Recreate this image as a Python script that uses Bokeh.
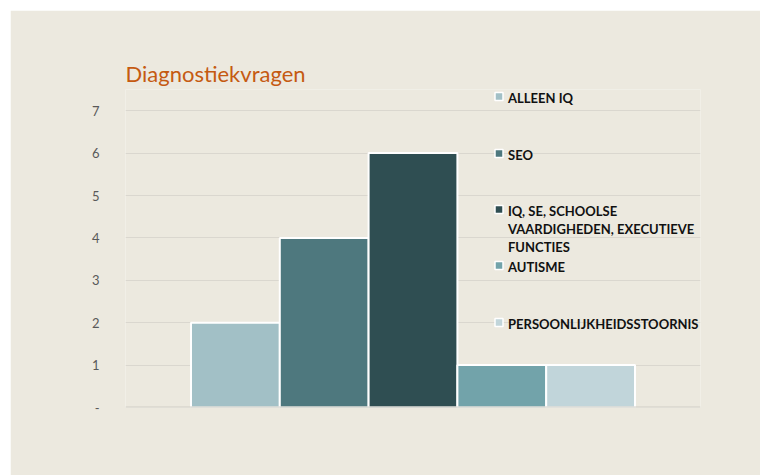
from bokeh.plotting import figure
from bokeh.models import FactorRange, Range1d, FixedTicker, Span
from bokeh.core.properties import value
from bokeh.embed import file_html
from bokeh.resources import INLINE

series = ["ALLEEN IQ", "SEO", "IQ, SE, SCHOOLSE\nVAARDIGHEDEN, EXECUTIEVE\nFUNCTIES", "AUTISME", "PERSOONLIJKHEIDSSTOORNIS"]
counts = [2, 4, 6, 1, 1]
colors = ["#A2C0C6", "#4E787E", "#2F4E52", "#72A3AA", "#C1D5DA"]
y_ticks = [0, 1, 2, 3, 4, 5, 6, 7]
y_tick_labels = ["-", "1", "2", "3", "4", "5", "6", "7"]
title_text = "Diagnostiekvragen"

BG = "#ECE9DF"
keys = [f"s{i}" for i in range(len(series))]

W, H = 750, 465
p = figure(width=W, height=H, output_backend="svg", toolbar_location=None,
           x_range=FactorRange(factors=keys, range_padding=0.295, range_padding_units="percent"),
           y_range=Range1d(0, 7.5),
           min_border_left=115, min_border_right=60, min_border_top=79, min_border_bottom=68)
p.margin = (10, 0, 0, 10)
p.background_fill_color = BG
p.border_fill_color = BG
p.outline_line_color = None

p.vbar(x=keys, top=counts, width=1.0, fill_color=colors, line_color="white", line_width=2)

p.xaxis.visible = False
p.xgrid.visible = False
p.ygrid.ticker = FixedTicker(ticks=y_ticks[1:])
p.ygrid.grid_line_color = "#DAD7CF"
p.ygrid.grid_line_width = 1
p.add_layout(Span(location=0, dimension="width", line_color="#D0CDC5", line_width=2))

yax = p.yaxis[0]
yax.ticker = FixedTicker(ticks=y_ticks)
yax.major_label_overrides = {t: l for t, l in zip(y_ticks, y_tick_labels)}
yax.axis_line_color = None
yax.major_tick_line_color = None
yax.minor_tick_line_color = None
yax.major_label_standoff = 20
yax.major_label_text_font = "Lato"
yax.major_label_text_font_size = "13px"
yax.major_label_text_color = "#595959"

p.title.text = title_text
p.title.text_font = "Lato"
p.title.text_font_size = "22px"
p.title.text_font_style = "normal"
p.title.text_color = "#C55A11"
p.title.align = "left"
p.title.standoff = 5

# legend drawn manually (pixel -> data helpers)
fl, px_per_x, x0 = 125, 88.8, -0.732
fb, px_per_y = 407, 42.4
def dx(px):
    return x0 + (px - fl) / px_per_x
def dy(py):
    return (fb - py) / px_per_y

leg_py = [96, 153, 209, 265, 322]
p.scatter(x=[dx(498)] * len(series), y=[dy(v) for v in leg_py], marker="square", size=8,
          fill_color=colors, line_color="white", line_width=1.5)
p.text(x=[dx(507)] * len(series), y=[dy(v - 7) for v in leg_py], text=series,
       text_font=value("Lato"), text_font_style="bold", text_font_size="13px",
       text_color="#111111", text_baseline="top", text_align="left", text_line_height=1.15)

open("out.html", "w").write(file_html(p, INLINE))
